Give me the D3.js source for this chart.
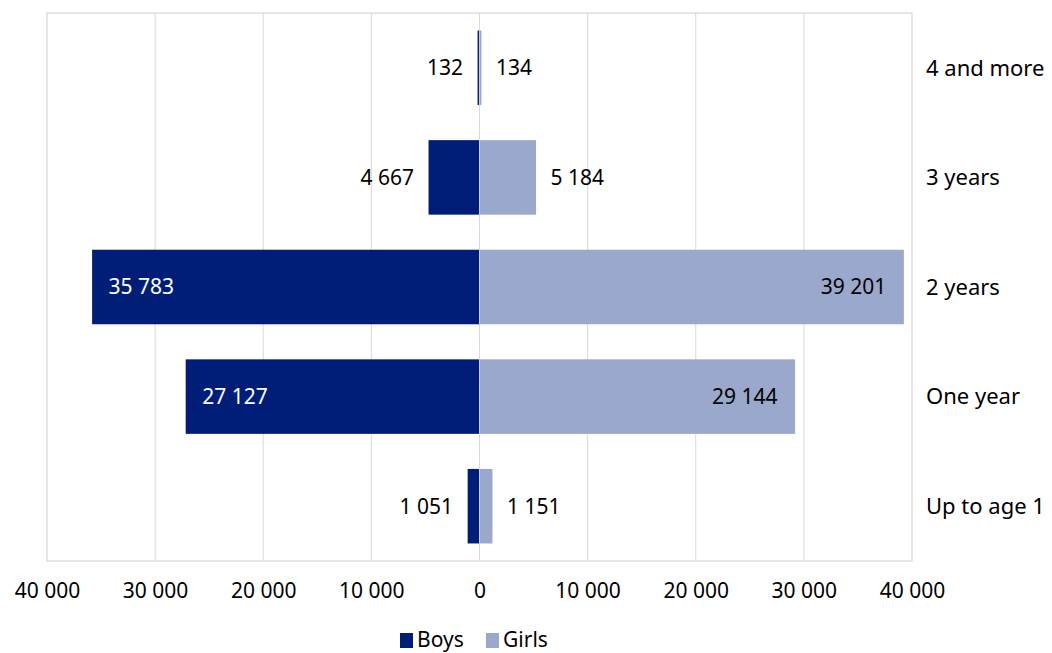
<!DOCTYPE html>
<html><head><meta charset="utf-8">
<script src="https://cdn.jsdelivr.net/npm/d3@7"></script>
<style>body{margin:0;background:#fff}svg{display:block}text{font-family:"Noto Sans","Open Sans",sans-serif}</style>
</head><body><svg id="c" width="1052" height="653"></svg>
<script>
const categories = ["4 and more","3 years","2 years","One year","Up to age 1"];
const boys = [132, 4667, 35783, 27127, 1051];
const girls = [134, 5184, 39201, 29144, 1151];
const ticks = [-40000,-30000,-20000,-10000,0,10000,20000,30000,40000];
const seriesNames = ["Boys","Girls"];
const colors = ["#001E78","#9AA8CB"];

const svg = d3.select("#c");
const L=47,R=912,T=13,B=561;
const FS=21;
const x = d3.scaleLinear().domain([-40000,40000]).range([L,R]);
const y = d3.scaleBand().domain(categories).range([T,B]).paddingInner(0.32).paddingOuter(0.16);
const fmt = v => d3.format(",")(Math.abs(v)).replace(/,/g," ");

// grid
svg.append("g").selectAll("line").data(ticks.slice(1,-1)).join("line")
 .attr("x1",d=>x(d)).attr("x2",d=>x(d)).attr("y1",T).attr("y2",B)
 .attr("stroke","#d9d9d9").attr("stroke-width",1);
svg.append("rect").attr("x",L).attr("y",T).attr("width",R-L).attr("height",B-T)
 .attr("fill","none").attr("stroke","#d9d9d9").attr("stroke-width",1.3);

const data = categories.map((c,i)=>({c,b:boys[i],g:girls[i]}));
const g = svg.append("g");
g.selectAll("rect.b").data(data).join("rect").attr("class","b")
 .attr("x",d=>x(-d.b)-0.5).attr("width",d=>x(0)-x(-d.b)+0.5).attr("y",d=>y(d.c)).attr("height",y.bandwidth())
 .attr("fill",colors[0]);
g.selectAll("rect.g").data(data).join("rect").attr("class","g")
 .attr("x",x(0)).attr("width",d=>x(d.g)-x(0)+0.5).attr("y",d=>y(d.c)).attr("height",y.bandwidth())
 .attr("fill",colors[1]);
g.selectAll("line.z").data(data).join("line")
 .attr("x1",x(0)).attr("x2",x(0)).attr("y1",d=>y(d.c)).attr("y2",d=>y(d.c)+y.bandwidth())
 .attr("stroke","#fff").attr("stroke-width",0.7).attr("stroke-opacity",0.8);

const TH = 10000;
g.selectAll("text.bl").data(data).join("text")
 .attr("x",d=> d.b>TH ? x(-d.b)+16 : x(-d.b)-15)
 .attr("text-anchor",d=> d.b>TH ? "start":"end")
 .attr("y",d=>y(d.c)+y.bandwidth()/2).attr("dy","0.35em")
 .attr("font-size",FS).attr("fill",d=>d.b>TH?"#fff":"#000").text(d=>fmt(d.b));
g.selectAll("text.gl").data(data).join("text")
 .attr("x",d=> d.g>TH ? x(d.g)-17 : x(d.g)+15)
 .attr("text-anchor",d=> d.g>TH ? "end":"start")
 .attr("y",d=>y(d.c)+y.bandwidth()/2).attr("dy","0.35em")
 .attr("font-size",FS).attr("fill","#000").text(d=>fmt(d.g));

// category labels
svg.append("g").selectAll("text").data(categories).join("text")
 .attr("x",926).attr("y",d=>y(d)+y.bandwidth()/2).attr("dy","0.35em")
 .attr("font-size",FS+1).attr("fill","#000").text(d=>d);

// x axis
const ax = d3.axisBottom(x).tickValues(ticks).tickFormat(fmt).tickSize(0).tickPadding(0);
const axg = svg.append("g").attr("transform",`translate(0,${B+30})`).call(ax);
axg.select(".domain").remove();
axg.selectAll("text").attr("font-size",FS).attr("fill","#000").attr("dy","0.35em")
 .style("font-family",'"Noto Sans",sans-serif');

// legend
const lg = svg.append("g");
const items = [{n:seriesNames[0],c:colors[0],x:400},{n:seriesNames[1],c:colors[1],x:486}];
items.forEach(it=>{
 lg.append("rect").attr("x",it.x).attr("y",633).attr("width",13).attr("height",15).attr("fill",it.c);
 lg.append("text").attr("x",it.x+17).attr("y",640).attr("dy","0.33em").attr("font-size",FS)
  .style("font-family",'"Noto Sans",sans-serif').text(it.n);
});
</script></body></html>
